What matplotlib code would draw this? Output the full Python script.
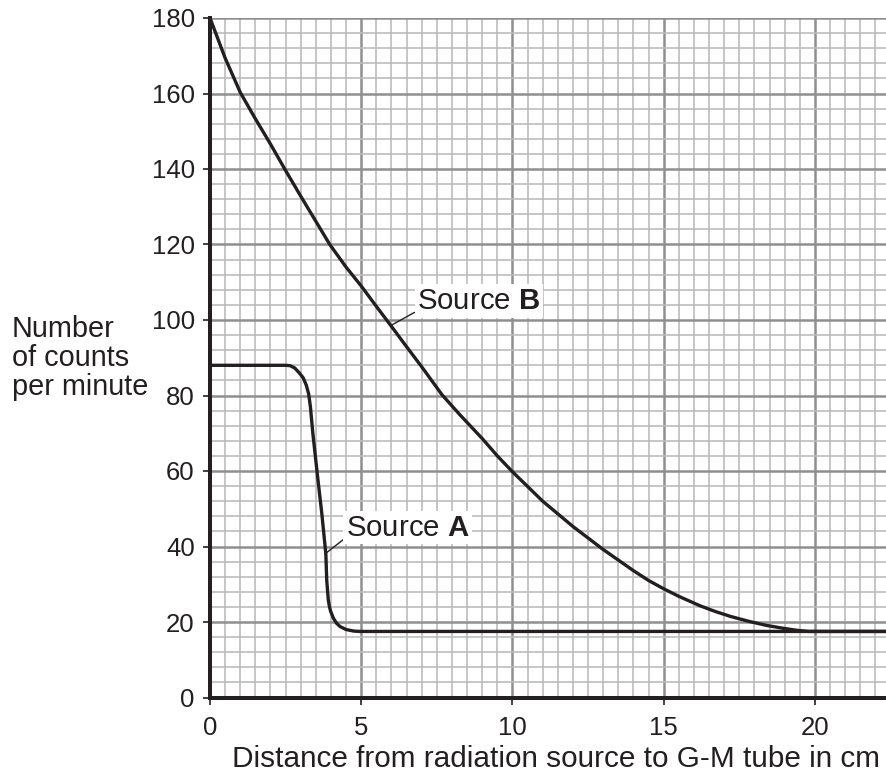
import matplotlib
matplotlib.use("Agg")
from matplotlib import pyplot as plt
from matplotlib.ticker import MultipleLocator

plt.rcParams['font.family'] = ['Liberation Sans', 'DejaVu Sans']
plt.rcParams['mathtext.fontset'] = 'custom'
plt.rcParams['mathtext.rm'] = 'Liberation Sans'
plt.rcParams['mathtext.bf'] = 'Liberation Sans:bold'

# readings: distance (cm) and counts per minute
dist_a = [0, 2.5, 2.65, 2.8, 2.95, 3.08, 3.18, 3.26, 3.32, 3.4, 3.55, 3.7, 3.83, 3.86,
          3.91, 3.95, 3.99, 4.08, 4.18, 4.3, 4.5, 4.75, 4.95, 22.35]
counts_a = [88, 88, 87.9, 87.3, 86, 84.7, 82.8, 80.5, 77, 70, 59, 48.5, 38, 31,
            25.9, 24, 22.8, 21, 19.7, 18.8, 18, 17.6, 17.5, 17.5]

dist_b = [0, 0.5, 1, 1.5, 2, 2.47, 3, 3.36, 3.96, 4.5, 5, 5.5, 6, 6.5, 7, 7.67, 8.25,
          9, 9.5, 10, 11, 12, 13, 14, 14.5, 15, 15.5, 16.2, 16.7, 17.2, 17.8, 18.4,
          18.9, 19.4, 19.8, 22.35]
counts_b = [180, 169.4, 160.3, 153.3, 146.6, 140, 132.8, 128, 120, 114, 109, 103.6, 98.3,
            92.9, 87.6, 80.2, 75, 68.6, 64, 59.8, 52, 45.3, 39.2, 33.6, 31, 28.8, 26.8,
            24.3, 22.8, 21.5, 20.2, 19.1, 18.4, 17.8, 17.5, 17.5]

label_a = "Source $\\mathbf{A}$"
label_b = "Source $\\mathbf{B}$"
ink = '#231f20'


def main():
    fig = plt.figure(figsize=(8.86, 7.77), dpi=100)
    ax = fig.add_axes([210 / 886, 79.5 / 777, 676 / 886, 679.5 / 777])

    ax.set_xlim(0, 22.35)
    ax.set_ylim(0, 180)
    ax.xaxis.set_major_locator(MultipleLocator(5))
    ax.xaxis.set_minor_locator(MultipleLocator(0.5))
    ax.yaxis.set_major_locator(MultipleLocator(20))
    ax.yaxis.set_minor_locator(MultipleLocator(4))

    ax.set_axisbelow(True)
    ax.grid(which='minor', color='#bcbcbc', linewidth=1.2)
    ax.grid(which='major', color='#8f8f8f', linewidth=1.8)

    for side in ['top', 'right']:
        ax.spines[side].set_visible(False)
    for side in ['left', 'bottom']:
        ax.spines[side].set_linewidth(2.9)
        ax.spines[side].set_color(ink)

    ax.tick_params(which='major', direction='out', length=5, width=1.2,
                   labelsize=18.5, color=ink, labelcolor=ink)
    ax.tick_params(axis='x', which='major', pad=8)
    ax.tick_params(axis='y', which='major', pad=6)
    ax.tick_params(which='minor', length=0)

    ax.plot(dist_a, counts_a, color=ink, linewidth=2.4, solid_joinstyle='round', zorder=3)
    ax.plot(dist_b, counts_b, color=ink, linewidth=2.4, solid_joinstyle='round', zorder=3)

    box = dict(facecolor='white', edgecolor='none', pad=2)
    ax.annotate(label_b, xy=(5.97, 98.5), xytext=(6.85, 105), fontsize=21.2,
                ha='left', va='center', color=ink, bbox=box, zorder=4,
                arrowprops=dict(arrowstyle='-', color=ink, linewidth=1.0,
                                shrinkA=0, shrinkB=0, relpos=(0, 0.15)))
    ax.annotate(label_a, xy=(3.86, 38.4), xytext=(4.5, 45), fontsize=21.2,
                ha='left', va='center', color=ink, bbox=box, zorder=4,
                arrowprops=dict(arrowstyle='-', color=ink, linewidth=1.0,
                                shrinkA=0, shrinkB=0, relpos=(0, 0.15)))

    fig.text(12 / 886, 1 - 358 / 777, "Number\nof counts\nper minute", fontsize=20.8,
             ha='left', va='center', color=ink, linespacing=1.05)
    fig.text(556 / 886, 1 - 759 / 777, "Distance from radiation source to G-M tube in cm",
             fontsize=21.4, ha='center', va='center', color=ink)

    fig.savefig('out.png', dpi=100)


if __name__ == '__main__':
    main()
